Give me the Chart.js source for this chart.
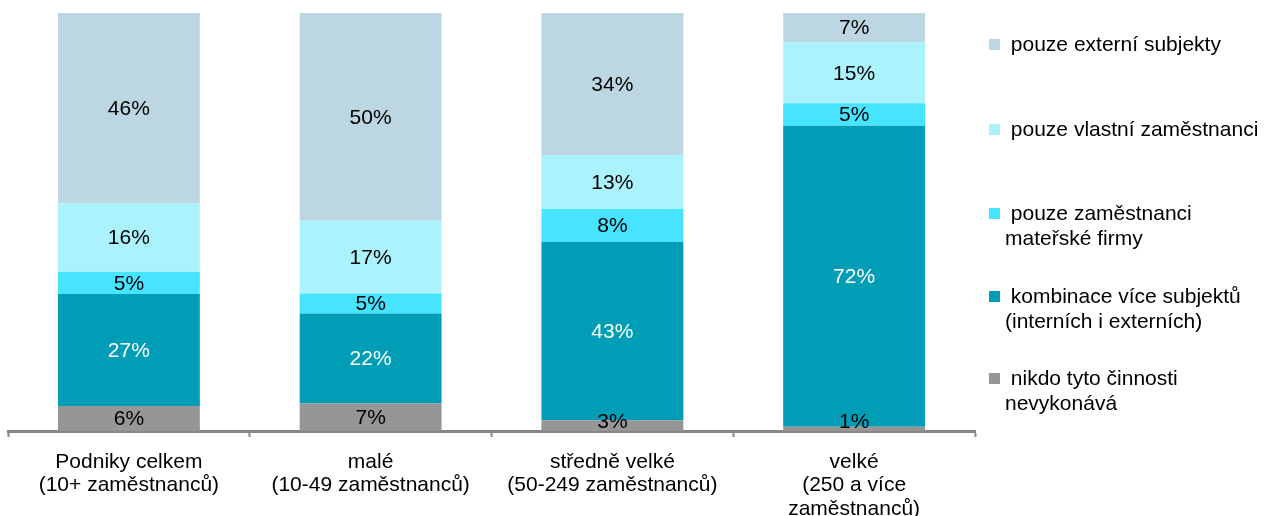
<!DOCTYPE html>
<html>
<head>
<meta charset="utf-8">
<script src="https://cdn.jsdelivr.net/npm/chart.js@4"></script>
<style>
  html, body { margin: 0; padding: 0; background: #ffffff; }
  #wrap { position: relative; width: 1264px; height: 516px; font-family: Arial, "Liberation Sans", sans-serif; }
  #graf { position: absolute; left: 0; top: 0; }
  .leyenda-item { position: absolute; left: 1005px; font-size: 21px; line-height: 24.5px; color: #000; white-space: pre; }
  .leyenda-item .cuadro { position: absolute; left: -16px; top: 7px; width: 11px; height: 11px; }
</style>
</head>
<body>
<div id="wrap">
  <canvas id="graf" width="1264" height="516"></canvas>
</div>
<script>
// Datos del gráfico (podíl podniků v %)
const kategorie = [
  ['Podniky celkem', '(10+ zaměstnanců)'],
  ['malé', '(10-49 zaměstnanců)'],
  ['středně velké', '(50-249 zaměstnanců)'],
  ['velké', '(250 a více', 'zaměstnanců)']
];

const nikdo = [6.0, 6.6, 2.6, 1.0];
const kombinace = [26.8, 21.5, 42.6, 72.0];
const materska = [5.3, 4.8, 7.9, 5.4];
const vlastni = [16.3, 17.4, 12.9, 14.6];
const externi = [45.6, 49.7, 34.0, 7.0];

const nazvySerii = [
  'nikdo tyto činnosti\nnevykonává',
  'kombinace více subjektů\n(interních i externích)',
  'pouze zaměstnanci\nmateřské firmy',
  'pouze vlastní zaměstnanci',
  'pouze externí subjekty'
];

const barvy = ['#969696', '#009db6', '#46e4ff', '#aaf3fc', '#bdd7e2'];
const barvyTextu = ['#000000', '#ffffff', '#000000', '#000000', '#000000'];

// Plugin para dibujar los porcentajes dentro de cada segmento
const etiquetasPlugin = {
  id: 'etiquetas',
  afterDatasetsDraw(chart) {
    const ctx = chart.ctx;
    const fondo = chart.chartArea.bottom;
    ctx.save();
    ctx.font = '21px Arial, "Liberation Sans", sans-serif';
    ctx.textAlign = 'center';
    ctx.textBaseline = 'middle';
    chart.data.datasets.forEach((ds, i) => {
      const meta = chart.getDatasetMeta(i);
      meta.data.forEach((bar, j) => {
        let y = (bar.y + bar.base) / 2;
        if (y > fondo - 10) y = fondo - 10;
        ctx.fillStyle = ds.colorTexto;
        ctx.fillText(Math.round(ds.data[j]) + '%', bar.x, y + 1);
      });
    });
    ctx.restore();
  }
};

const series = [nikdo, kombinace, materska, vlastni, externi];

const ctx = document.getElementById('graf').getContext('2d');
const chart = new Chart(ctx, {
  type: 'bar',
  data: {
    labels: kategorie,
    datasets: series.map((valores, i) => ({
      label: nazvySerii[i],
      data: valores,
      backgroundColor: barvy[i],
      borderWidth: 0,
      colorTexto: barvyTextu[i],
      barPercentage: 0.587,
      categoryPercentage: 1.0
    }))
  },
  options: {
    responsive: false,
    animation: false,
    layout: { padding: { left: 8, right: 289, top: 13, bottom: 0 } },
    plugins: {
      legend: { display: false },
      tooltip: { enabled: false }
    },
    scales: {
      x: {
        stacked: true,
        afterFit: (s) => { s.height = 85; },
        border: { display: true, color: '#868686', width: 3 },
        grid: {
          offset: true,
          drawOnChartArea: false,
          drawTicks: true,
          tickLength: 6,
          tickWidth: 2,
          color: '#868686'
        },
        ticks: {
          color: '#000000',
          font: { family: 'Arial, "Liberation Sans", sans-serif', size: 21, lineHeight: 1.1 },
          padding: 14,
          maxRotation: 0,
          autoSkip: false
        }
      },
      y: {
        stacked: true,
        display: false,
        min: 0,
        max: 100
      }
    }
  },
  plugins: [etiquetasPlugin]
});

// Leyenda en HTML, orden inverso (como en el original)
const posicionesLeyenda = [366, 284, 201, 117, 32];
const wrap = document.getElementById('wrap');
nazvySerii.forEach((nombre, i) => {
  const div = document.createElement('div');
  div.className = 'leyenda-item';
  div.style.top = posicionesLeyenda[i] + 'px';
  const cuadro = document.createElement('span');
  cuadro.className = 'cuadro';
  cuadro.style.background = barvy[i];
  div.appendChild(cuadro);
  const lineas = nombre.split('\n');
  div.appendChild(document.createTextNode(' ' + lineas[0] + (lineas[1] ? '\n' + lineas[1] : '')));
  wrap.appendChild(div);
});
</script>
</body>
</html>
